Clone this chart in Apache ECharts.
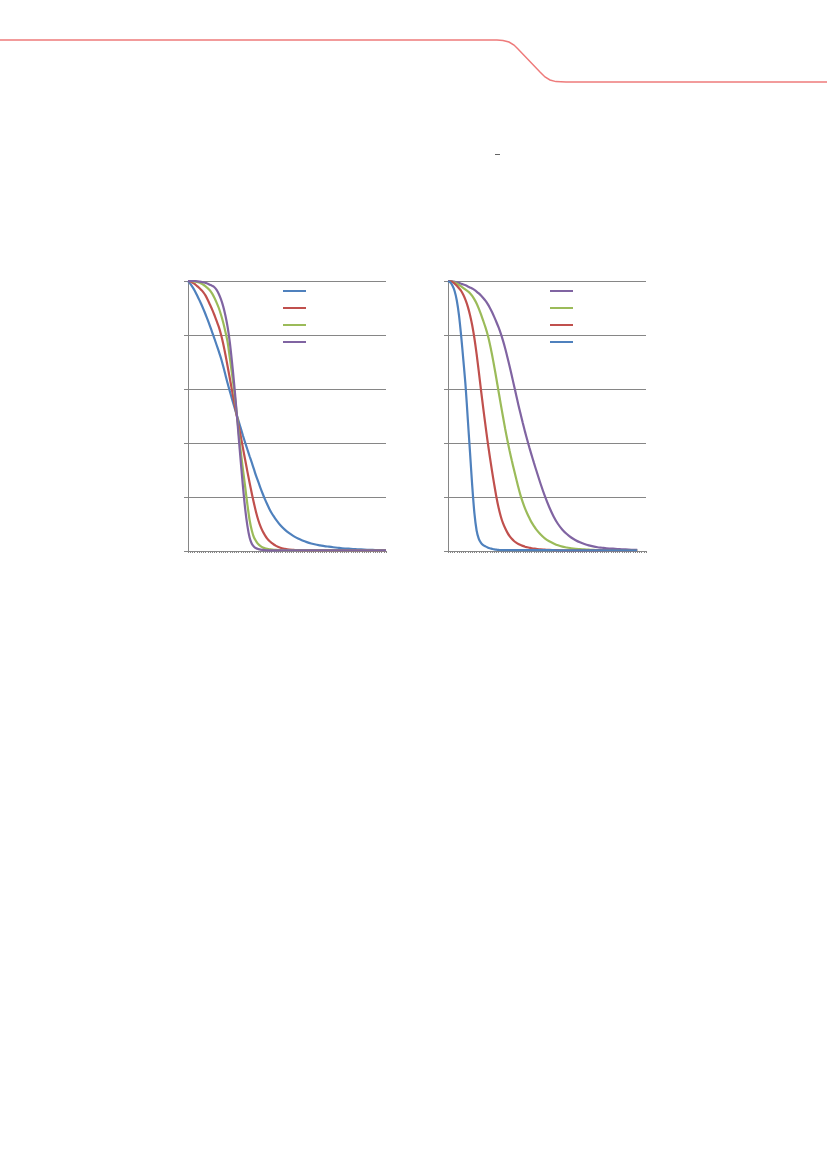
<!DOCTYPE html>
<html><head><meta charset="utf-8">
<script src="https://cdn.jsdelivr.net/npm/echarts@6/dist/echarts.min.js"></script>
<style>html,body{margin:0;padding:0;background:#fff}#c{width:827px;height:1170px}</style>
</head><body><div id="c"></div>
<script>
// x positions (axis runs 0..90)
const leftX = [0,1,2,3,4,5,6,7,8,9,10,11,12,13,14,15,16,17,18,19,20,21,22,23,24,25,26,27,28,29,30,31,32,33,34,35,36,37,38,39,40,
  42,44,46,48,50,52,54,56,58,60,62,64,66,68,70,72,74,76,78,80,82,84,86,88,90];
const rightX = [0,1,2,3,4,5,6,7,8,9,10,11,12,13,14,15,16,17,18,19,20,21,22,23,24,25,26,27,28,29,30,31,32,33,34,35,36,37,38,39,40,
  42,44,46,48,50,52,54,56,58,60,62,64,66,68,70,72,74,76,78,80,82,84,86];

// Left chart values
const leftBlue = [1.000,0.990,0.978,0.965,0.949,0.932,0.915,0.896,0.876,0.855,
  0.833,0.810,0.787,0.763,0.739,0.714,0.684,0.653,0.621,0.592,
  0.563,0.535,0.508,0.481,0.454,0.427,0.401,0.376,0.351,0.327,
  0.302,0.277,0.255,0.232,0.211,0.191,0.173,0.156,0.141,0.128,
  0.116,
  0.095,0.079,0.066,0.055,0.046,0.039,0.033,0.028,0.024,0.021,0.018,0.016,0.014,0.012,0.010,0.009,0.008,0.007,0.006,0.005,0.0045,0.004,0.0035,0.003,0.003];
const leftRed = [1.000,0.998,0.994,0.989,0.982,0.975,0.967,0.958,0.946,0.930,
  0.912,0.894,0.874,0.852,0.830,0.802,0.768,0.728,0.684,0.640,
  0.595,0.551,0.508,0.466,0.424,0.380,0.337,0.294,0.253,0.213,
  0.176,0.142,0.113,0.090,0.072,0.058,0.046,0.037,0.030,0.024,
  0.019,
  0.012,0.008,0.005,0.004,0.003,0.0025,0.002,0.002,0.002,0.002,0.002,0.002,0.002,0.002,0.002,0.002,0.002,0.002,0.002,0.002,0.002,0.002,0.002,0.002,0.002];
const leftGreen = [1.000,1.000,0.999,0.998,0.997,0.995,0.991,0.986,0.980,0.973,
  0.965,0.953,0.938,0.920,0.900,0.875,0.846,0.812,0.774,0.716,
  0.656,0.593,0.522,0.443,0.367,0.300,0.237,0.172,0.115,0.076,
  0.050,0.036,0.025,0.018,0.013,0.010,0.008,0.0065,0.0055,0.0045,
  0.004,
  0.003,0.002,0.002,0.002,0.002,0.002,0.002,0.002,0.002,0.002,0.002,0.002,0.002,0.002,0.002,0.002,0.002,0.002,0.002,0.002,0.002,0.002,0.002,0.002,0.002];
const leftPurple = [1.000,1.000,1.000,1.000,0.999,0.998,0.997,0.995,0.993,0.990,
  0.986,0.982,0.977,0.967,0.952,0.932,0.906,0.872,0.830,0.774,
  0.700,0.617,0.525,0.425,0.329,0.237,0.155,0.093,0.050,0.027,
  0.016,0.010,0.007,0.005,0.004,0.003,0.0025,0.0025,0.0025,0.0025,
  0.0025,
  0.002,0.002,0.002,0.002,0.002,0.002,0.002,0.002,0.002,0.002,0.002,0.002,0.002,0.002,0.002,0.002,0.002,0.002,0.002,0.002,0.002,0.002,0.002,0.002,0.002];

// Right chart values
const rightPurple = [1.000,1.000,0.999,0.997,0.995,0.993,0.990,0.987,0.984,0.980,
  0.976,0.972,0.967,0.961,0.954,0.946,0.937,0.927,0.915,0.901,
  0.885,0.867,0.848,0.828,0.805,0.779,0.750,0.718,0.684,0.649,
  0.613,0.577,0.541,0.507,0.474,0.442,0.412,0.383,0.355,0.328,
  0.302,
  0.251,0.204,0.163,0.128,0.100,0.079,0.063,0.050,0.040,0.032,0.026,0.021,0.017,0.014,0.012,0.010,0.009,0.008,0.007,0.006,0.005,0.0045,0.004];
const rightGreen = [1.000,0.999,0.997,0.994,0.990,0.985,0.980,0.974,0.968,0.962,
  0.955,0.945,0.932,0.917,0.898,0.876,0.853,0.829,0.802,0.768,
  0.728,0.684,0.638,0.590,0.543,0.497,0.452,0.410,0.371,0.335,
  0.301,0.268,0.235,0.205,0.180,0.158,0.139,0.122,0.106,0.093,
  0.081,
  0.062,0.047,0.036,0.028,0.021,0.016,0.013,0.010,0.008,0.007,0.006,0.005,0.004,0.0035,0.003,0.0025,0.0025,0.002,0.002,0.002,0.002,0.002,0.002];
const rightRed = [1.000,0.999,0.996,0.990,0.982,0.973,0.963,0.948,0.929,0.905,
  0.874,0.836,0.788,0.730,0.664,0.596,0.530,0.467,0.406,0.350,
  0.297,0.247,0.200,0.160,0.128,0.103,0.084,0.068,0.055,0.045,
  0.037,0.031,0.026,0.022,0.019,0.016,0.014,0.012,0.010,0.009,
  0.008,
  0.006,0.005,0.004,0.0035,0.003,0.0025,0.002,0.002,0.002,0.002,0.002,0.002,0.002,0.002,0.002,0.002,0.002,0.002,0.002,0.002,0.002,0.002,0.002];
const rightBlue = [1.000,0.995,0.983,0.963,0.928,0.873,0.795,0.705,0.610,0.488,
  0.366,0.243,0.140,0.076,0.045,0.030,0.022,0.017,0.013,0.010,
  0.008,0.006,0.005,0.004,0.003,0.003,0.003,0.003,0.003,0.003,
  0.003,0.003,0.003,0.003,0.003,0.003,0.003,0.003,0.003,0.003,
  0.003,
  0.003,0.003,0.003,0.003,0.0025,0.0025,0.0025,0.0025,0.0025,0.0025,0.0025,0.0025,0.0025,0.0025,0.0025,0.0025,0.0025,0.0025,0.0025,0.0025,0.0025,0.0025,0.0025];

const leftNames = ['L1','L2','L3','L4'];
const rightNames = ['R1','R2','R3','R4'];

const BLUE='#4F81BD', RED='#C0504D', GREEN='#9BBB59', PURPLE='#8064A2', GRAY='#868686';
const pair = (xs, vs) => xs.map((x, i) => [x, vs[i]]);

const chart = echarts.init(document.getElementById('c'), null, {renderer:'canvas'});
function xAx(i){return {type:'value',gridIndex:i,min:0,max:90,interval:1,
  axisLine:{show:true,onZero:false,lineStyle:{color:GRAY,width:1}},
  axisTick:{show:true,length:2,lineStyle:{color:GRAY,width:1}},
  axisLabel:{show:false},splitLine:{show:false}};}
function yAx(i){return {type:'value',gridIndex:i,min:0,max:1,interval:0.2,
  axisLine:{show:true,lineStyle:{color:GRAY,width:1}},
  axisTick:{show:true,length:4,lineStyle:{color:GRAY,width:1}},
  axisLabel:{show:false},splitLine:{show:true,lineStyle:{color:GRAY,width:1}}};}
function ser(name,data,color,i){return {name,type:'line',xAxisIndex:i,yAxisIndex:i,data,
  showSymbol:false,symbol:'none',smooth:0.3,
  lineStyle:{color,width:2.2},itemStyle:{color},z:3};}
function leg(names,left){return {data:names,left,top:290,padding:0,orient:'vertical',icon:'rect',
  itemWidth:23,itemHeight:2,itemGap:15,formatter:()=> '',textStyle:{fontSize:1},selectedMode:false};}

chart.setOption({
  animation:false,
  grid:[{left:188,top:281,width:198,height:270},{left:448,top:281,width:198,height:270}],
  xAxis:[xAx(0),xAx(1)],
  yAxis:[yAx(0),yAx(1)],
  legend:[leg(leftNames,283),leg(rightNames,550)],
  series:[
    ser('L1',pair(leftX,leftBlue),BLUE,0),ser('L2',pair(leftX,leftRed),RED,0),
    ser('L3',pair(leftX,leftGreen),GREEN,0),ser('L4',pair(leftX,leftPurple),PURPLE,0),
    ser('R1',pair(rightX,rightPurple),PURPLE,1),ser('R2',pair(rightX,rightGreen),GREEN,1),
    ser('R3',pair(rightX,rightRed),RED,1),ser('R4',pair(rightX,rightBlue),BLUE,1)
  ],
  graphic:[
    {type:'polyline',shape:{points:[[0,40],[497,40],[503,40.5],[509,42],[514,45],[518,49],[540,72],[545,77],[550,80],[556,81.6],[566,82],[827,82]]},
     style:{fill:null,stroke:'#EE7B7B',lineWidth:1.5},silent:true},
    {type:'text',x:495,y:150,style:{text:'–',fontSize:9,fill:'#000',fontFamily:'Liberation Sans'},silent:true}
  ]
});
</script></body></html>
